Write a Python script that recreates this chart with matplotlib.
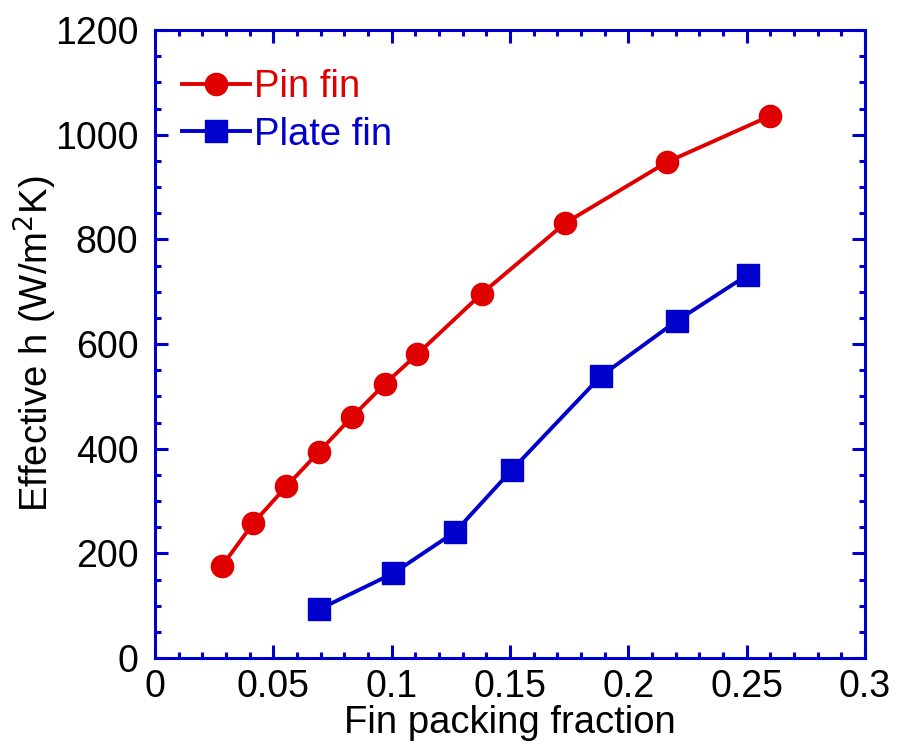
import matplotlib
matplotlib.use("Agg")
import matplotlib.pyplot as plt
from matplotlib.ticker import MultipleLocator, FuncFormatter

plt.rcParams['font.family'] = ['Liberation Sans', 'DejaVu Sans']

pin_x = [0.0283, 0.0416, 0.0555, 0.0693, 0.0831, 0.0972, 0.1107, 0.1380, 0.1733, 0.2165, 0.2600]
pin_y = [176, 258, 328, 394, 460, 524, 580, 696, 831, 948, 1036]
plate_x = [0.0693, 0.1007, 0.1268, 0.1507, 0.1885, 0.2204, 0.2504]
plate_y = [93, 162, 241, 359, 539, 644, 732]

red = '#e00000'
blue = '#0000cc'

fig = plt.figure(figsize=(8.97, 7.52), dpi=100)
ax = fig.add_axes([155/897, 1-658/752, 710/897, 628/752])

ax.plot(pin_x, pin_y, '-o', color=red, lw=2.8, ms=16, label='Pin fin')
ax.plot(plate_x, plate_y, '-s', color=blue, lw=2.8, ms=16, label='Plate fin')

ax.set_xlim(0, 0.3)
ax.set_ylim(0, 1200)
ax.xaxis.set_major_locator(MultipleLocator(0.05))
ax.xaxis.set_minor_locator(MultipleLocator(0.01))
ax.yaxis.set_major_locator(MultipleLocator(200))
ax.yaxis.set_minor_locator(MultipleLocator(50))
ax.xaxis.set_major_formatter(FuncFormatter(lambda v, p: '0' if abs(v) < 1e-9 else ('%g' % round(v, 3))))

for s in ax.spines.values():
    s.set_color(blue)
    s.set_linewidth(2.2)
ax.tick_params(which='both', direction='in', top=True, right=True, color=blue,
               labelsize=27, labelcolor='black')
ax.tick_params(which='major', length=9.5, width=2.2)
ax.tick_params(axis='y', which='major', pad=12)
ax.tick_params(axis='x', which='major', pad=8)
ax.tick_params(which='minor', length=4.5, width=2.2)

ax.set_xlabel('Fin packing fraction', fontsize=27.5, labelpad=0)
ax.set_ylabel('Effective h (W/m$^2$K)', fontsize=27.5)
ax.yaxis.set_label_coords(-0.135, 0.5)

leg = ax.legend(loc='upper left', frameon=False, fontsize=27.5, handlelength=1.8,
                handletextpad=0.1, borderaxespad=0.3, labelspacing=0.3,
                bbox_to_anchor=(0.0, 0.98))
for t, c in zip(leg.get_texts(), [red, blue]):
    t.set_color(c)

fig.savefig('out.png', dpi=100)
